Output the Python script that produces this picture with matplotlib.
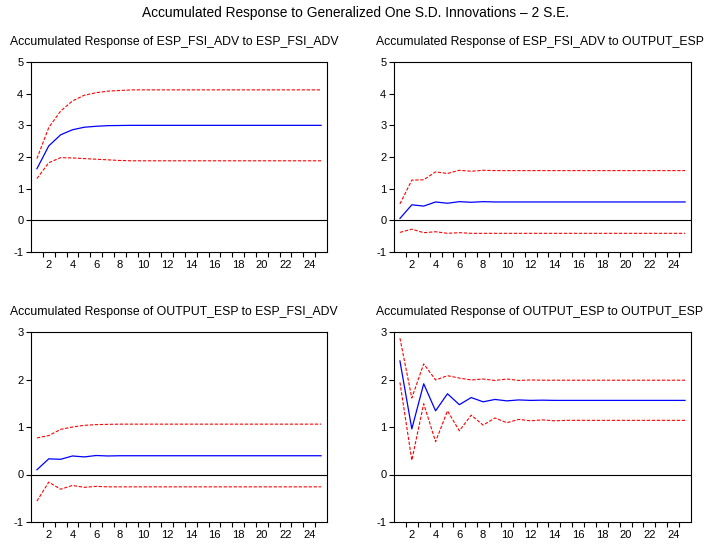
import matplotlib.pyplot as plt
import numpy as np
from matplotlib.ticker import MultipleLocator, FixedLocator

plt.rcParams["font.family"] = ["Liberation Sans", "DejaVu Sans"]
plt.rcParams["axes.unicode_minus"] = False

periods = np.arange(1, 26)

fsi_fsi = [1.63, 2.35, 2.70, 2.86, 2.94, 2.97, 2.99, 2.995] + [3.0] * 17
fsi_fsi_up = [1.95, 2.93, 3.45, 3.77, 3.95, 4.03, 4.08, 4.10] + [4.12] * 17
fsi_fsi_lo = [1.32, 1.82, 1.98, 1.97, 1.95, 1.93, 1.91, 1.89] + [1.88] * 17

fsi_out = [0.06, 0.49, 0.45, 0.58, 0.54, 0.59, 0.57, 0.59] + [0.58] * 17
fsi_out_up = [0.52, 1.27, 1.28, 1.53, 1.48, 1.58, 1.55, 1.58] + [1.57] * 17
fsi_out_lo = [-0.38, -0.28, -0.39, -0.36, -0.41, -0.39, -0.41, -0.41] + [-0.41] * 17

out_fsi = [0.10, 0.33, 0.32, 0.39, 0.37, 0.40, 0.39, 0.395] + [0.395] * 17
out_fsi_up = [0.77, 0.82, 0.95, 1.00, 1.035, 1.05, 1.056, 1.06] + [1.06] * 17
out_fsi_lo = [-0.56, -0.16, -0.31, -0.23, -0.27, -0.25, -0.26, -0.26] + [-0.26] * 17

out_out = [2.39, 0.96, 1.91, 1.34, 1.70, 1.47, 1.62, 1.53, 1.58, 1.55, 1.57, 1.56, 1.565] + [1.56] * 12
out_out_up = [2.87, 1.61, 2.33, 1.99, 2.08, 2.03, 1.99, 2.01, 1.98, 2.01, 1.98, 1.99, 1.985] + [1.985] * 12
out_out_lo = [1.94, 0.30, 1.49, 0.69, 1.34, 0.92, 1.25, 1.04, 1.19, 1.09, 1.16, 1.13, 1.15, 1.13] + [1.14] * 11

panels = [
    ("Accumulated Response of ESP_FSI_ADV to ESP_FSI_ADV", fsi_fsi, fsi_fsi_up, fsi_fsi_lo, (-1, 5)),
    ("Accumulated Response of ESP_FSI_ADV to OUTPUT_ESP", fsi_out, fsi_out_up, fsi_out_lo, (-1, 5)),
    ("Accumulated Response of OUTPUT_ESP to ESP_FSI_ADV", out_fsi, out_fsi_up, out_fsi_lo, (-1, 3)),
    ("Accumulated Response of OUTPUT_ESP to OUTPUT_ESP", out_out, out_out_up, out_out_lo, (-1, 3)),
]

W, H = 710, 545
fig = plt.figure(figsize=(W / 100, H / 100), dpi=100)
fig.text(0.5, 1 - 13 / H, "Accumulated Response to Generalized One S.D. Innovations \u2013 2 S.E.",
         ha="center", va="center", fontsize=9.9)

# pixel boxes: left, top, right, bottom
boxes = [(31, 62, 327, 252), (394, 62, 691, 252), (31, 332, 327, 522), (394, 332, 691, 522)]
title_x = [10, 376, 10, 376]

for (titre, mid, up, lo, ylim), (l, t, r, b), tx in zip(panels, boxes, title_x):
    ax = fig.add_axes([l / W, 1 - b / H, (r - l) / W, (b - t) / H])
    ax.plot(periods, up, color="red", lw=0.8, dashes=(3, 1.5))
    ax.plot(periods, lo, color="red", lw=0.8, dashes=(3, 1.5))
    ax.plot(periods, mid, color="blue", lw=0.9)
    ax.axhline(0, color="black", lw=0.8)
    ax.set_xlim(0.5, 25.5)
    ax.set_ylim(*ylim)
    ax.yaxis.set_major_locator(MultipleLocator(1))
    ax.xaxis.set_major_locator(FixedLocator(np.arange(2, 26, 2)))
    ax.xaxis.set_minor_locator(FixedLocator(np.arange(1.5, 25, 1)))
    ax.tick_params(axis="x", which="major", length=0, labelsize=8, pad=6)
    ax.tick_params(axis="x", which="minor", length=3.5, width=0.8, direction="out")
    ax.tick_params(axis="y", length=3.5, width=0.8, labelsize=8, pad=2)
    for s in ax.spines.values():
        s.set_linewidth(0.8)
    fig.text(tx / W, 1 - (t - 20) / H, titre, ha="left", va="center", fontsize=8.8)

fig.savefig("out.png", dpi=100)
